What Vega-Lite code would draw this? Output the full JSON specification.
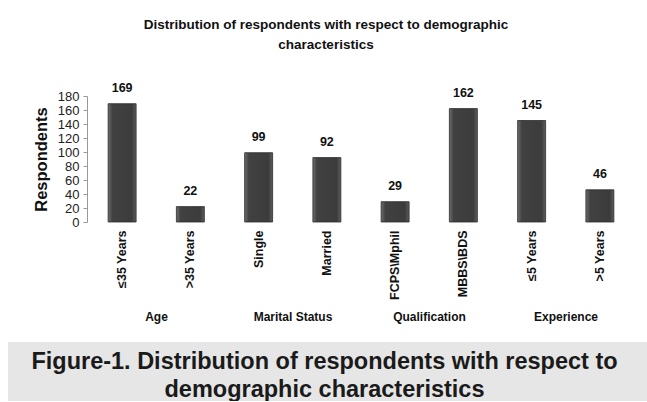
{
  "$schema": "https://vega.github.io/schema/vega-lite/v6.json",
  "background": "white",
  "padding": {"left": 8, "top": 18, "right": 0, "bottom": 0},
  "columns": 1,
  "spacing": 20,
  "config": {"view": {"stroke": null}},
  "concat": [
    {
      "width": 626,
      "height": 126,
      "title": {
        "text": ["Distribution of respondents with respect to demographic", "characteristics"],
        "font": "Liberation Sans",
        "fontSize": 13.5,
        "fontWeight": "bold",
        "color": "#111111",
        "lineHeight": 20,
        "anchor": "middle",
        "frame": "group",
        "dx": 5,
        "offset": 30
      },
      "data": {
        "values": [
          {"group": "Age", "category": "≤35 Years", "value": 169},
          {"group": "Age", "category": ">35 Years", "value": 22},
          {"group": "Marital Status", "category": "Single", "value": 99},
          {"group": "Marital Status", "category": "Married", "value": 92},
          {"group": "Qualification", "category": "FCPS\\Mphil", "value": 29},
          {"group": "Qualification", "category": "MBBS\\BDS", "value": 162},
          {"group": "Experience", "category": "≤5 Years", "value": 145},
          {"group": "Experience", "category": ">5 Years", "value": 46}
        ]
      },
      "layer": [
        {
          "encoding": {
            "x": {
              "field": "category",
              "type": "nominal",
              "sort": null,
              "scale": {"paddingInner": 0.59, "paddingOuter": 0.881, "align": 0.8326},
              "axis": {
                "orient": "bottom",
                "title": null,
                "labelAngle": -90,
                "labelFont": "Liberation Sans",
                "labelFontWeight": "bold",
                "labelFontSize": 12.5,
                "labelColor": "#111111",
                "labelPadding": 8,
                "labelLimit": 0,
                "ticks": false,
                "domain": false
              }
            },
            "y": {
              "field": "value",
              "type": "quantitative",
              "scale": {"domain": [0, 180], "nice": false},
              "axis": {
                "title": "Respondents",
                "offset": -79,
                "titleFont": "Liberation Sans",
                "titleFontSize": 16.5,
                "titleFontWeight": "bold",
                "titleColor": "#111111",
                "titlePadding": 8,
                "values": [0, 20, 40, 60, 80, 100, 120, 140, 160, 180],
                "grid": false,
                "labelFont": "Liberation Sans",
                "labelFontSize": 13,
                "labelColor": "#222222",
                "labelPadding": 4,
                "tickSize": 4,
                "tickColor": "#999999",
                "domainColor": "#999999"
              }
            }
          },
          "layer": [
            {
              "mark": {
                "type": "bar",
                "color": {
                  "gradient": "linear",
                  "x1": 0, "y1": 0, "x2": 1, "y2": 0,
                  "stops": [
                    {"offset": 0, "color": "#6e6e6e"},
                    {"offset": 0.15, "color": "#414141"},
                    {"offset": 0.85, "color": "#3c3c3c"},
                    {"offset": 1, "color": "#5e5e5e"}
                  ]
                },
                "stroke": "#2b2b2b",
                "strokeWidth": 0.8
              }
            },
            {
              "mark": {
                "type": "text",
                "baseline": "bottom",
                "dy": -9,
                "font": "Liberation Sans",
                "fontWeight": "bold",
                "fontSize": 12.5,
                "color": "#111111"
              },
              "encoding": {"text": {"field": "value", "type": "quantitative"}}
            }
          ]
        },
        {
          "mark": {"type": "point", "opacity": 0},
          "encoding": {
            "x": {
              "field": "group",
              "type": "nominal",
              "sort": null,
              "scale": {"type": "point", "padding": 0.793, "align": 0.6836},
              "axis": {
                "orient": "bottom",
                "offset": 79,
                "title": null,
                "labelAngle": 0,
                "labelFont": "Liberation Sans",
                "labelFontWeight": "bold",
                "labelFontSize": 12,
                "labelColor": "#111111",
                "labelPadding": 10,
                "ticks": false,
                "domain": false
              }
            }
          }
        }
      ],
      "resolve": {"scale": {"x": "independent"}, "axis": {"x": "independent"}}
    },
    {
      "width": 639,
      "height": 59,
      "view": {"fill": "#e6e6e6", "stroke": null},
      "data": {
        "values": [
          {"caption": "Figure-1. Distribution of respondents with respect to\ndemographic characteristics"}
        ]
      },
      "mark": {
        "type": "text",
        "lineBreak": "\n",
        "font": "Liberation Sans",
        "fontWeight": "bold",
        "fontSize": 23.5,
        "lineHeight": 28,
        "color": "#1a1a1a",
        "align": "center",
        "baseline": "middle",
        "dx": -3,
        "dy": -10
      },
      "encoding": {"text": {"field": "caption", "type": "nominal"}}
    }
  ]
}
